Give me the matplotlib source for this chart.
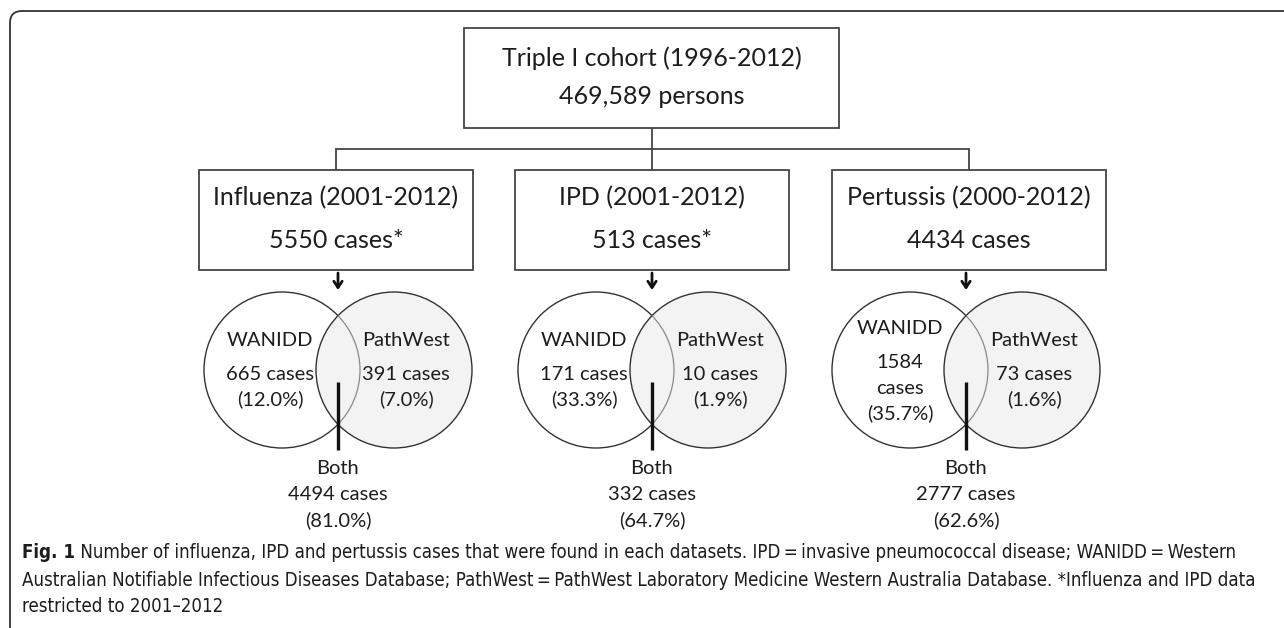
import matplotlib
matplotlib.use("Agg")
import matplotlib.pyplot as plt
import matplotlib.transforms as mtransforms
from matplotlib.patches import Rectangle, Circle, FancyBboxPatch

# ---------------- data ----------------
cohort_title = "Triple I cohort (1996-2012)"
cohort_size = "469,589 persons"
diseases = ["Influenza (2001-2012)", "IPD (2001-2012)", "Pertussis (2000-2012)"]
total_labels = ["5550 cases*", "513 cases*", "4434 cases"]
wanidd_cases = [665, 171, 1584]
wanidd_pct = [12.0, 33.3, 35.7]
pathwest_cases = [391, 10, 73]
pathwest_pct = [7.0, 1.9, 1.6]
both_cases = [4494, 332, 2777]
both_pct = [81.0, 64.7, 62.6]
caption_bold = "Fig. 1"
caption_lines = [
    " Number of influenza, IPD and pertussis cases that were found in each datasets. IPD\u2009=\u2009invasive pneumococcal disease; WANIDD\u2009=\u2009Western",
    "Australian Notifiable Infectious Diseases Database; PathWest\u2009=\u2009PathWest Laboratory Medicine Western Australia Database. *Influenza and IPD data",
    "restricted to 2001\u20132012",
]

# ---------------- figure ----------------
W, H = 1284, 628
fig = plt.figure(figsize=(W / 100, H / 100), dpi=100)
ax = fig.add_axes([0, 0, 1, 1])
ax.set_xlim(0, W)
ax.set_ylim(H, 0)
ax.axis("off")

FONT = "Lato"
TXT = "#1e1c1d"
LINE = "#444444"
BIG = 18

# outer rounded frame (extends past right/bottom edge)
frame = FancyBboxPatch((10, 11), W + 40, H + 40,
                       boxstyle="round,pad=0,rounding_size=12",
                       fc="none", ec="#333333", lw=1.3)
ax.add_patch(frame)

# top box
ax.add_patch(Rectangle((464, 28), 375, 100, fc="white", ec=LINE, lw=1.3))
ax.text(652, 58, cohort_title, ha="center", va="center", fontsize=BIG,
        family=FONT, color=TXT)
ax.text(652, 97, cohort_size, ha="center", va="center", fontsize=BIG,
        family=FONT, color=TXT)

box_cx = [336, 652, 969]
venn_mid = [338, 652, 966]
box_w, box_top, box_h = 274, 170, 100
conn_y = 149

# connectors
ax.plot([652, 652], [128, conn_y], color=LINE, lw=1.3, solid_capstyle="butt")
ax.plot([box_cx[0], box_cx[-1]], [conn_y, conn_y], color=LINE, lw=1.3)
for cx in box_cx:
    ax.plot([cx, cx], [conn_y, box_top], color=LINE, lw=1.3, solid_capstyle="butt")

R = 78
SEP = 56
CY = 370
fs = 14.5


def label(x, y, s, size=fs, z=5):
    ax.text(x, y, s, ha="center", va="center", fontsize=size,
            family=FONT, color=TXT, zorder=z)


for i, cx in enumerate(box_cx):
    ax.add_patch(Rectangle((cx - box_w / 2, box_top), box_w, box_h,
                           fc="white", ec=LINE, lw=1.3))
    label(cx, 198, diseases[i], BIG)
    label(cx, 240, total_labels[i], BIG)

    m = venn_mid[i]
    # arrow
    ax.annotate("", xy=(m, 290), xytext=(m, 273),
                arrowprops=dict(arrowstyle="->,head_length=0.45,head_width=0.3",
                                color="#111111", lw=2.0, shrinkA=0, shrinkB=0))
    lc, rc = m - SEP, m + SEP
    left = Circle((lc, CY), R, fc="white", ec="#333333", lw=1.0, zorder=2)
    right = Circle((rc, CY), R, fc="#f3f3f3", ec="#333333", lw=1.0, zorder=3)
    ax.add_patch(left)
    ax.add_patch(right)
    inner = Circle((lc, CY), R, fc="none", ec="#8a8a8a", lw=0.9, zorder=4)
    ax.add_patch(inner)
    inner.set_clip_path(right)

    # WANIDD side
    if wanidd_cases[i] >= 1000:
        label(lc - 10, 328, "WANIDD")
        label(lc - 10, 363, f"{wanidd_cases[i]}")
        label(lc - 10, 388, "cases")
        label(lc - 10, 413, f"({wanidd_pct[i]:.1f}%)")
    else:
        label(lc - 12, 341, "WANIDD")
        label(lc - 12, 375, f"{wanidd_cases[i]} cases")
        label(lc - 12, 399, f"({wanidd_pct[i]:.1f}%)")
    # PathWest side
    label(rc + 12, 341, "PathWest")
    label(rc + 12, 375, f"{pathwest_cases[i]} cases")
    label(rc + 12, 399, f"({pathwest_pct[i]:.1f}%)")

    # both pointer
    ax.plot([m, m], [382, 450], color="#111111", lw=2.4, zorder=6,
            solid_capstyle="butt")
    label(m, 469, "Both")
    label(m, 495, f"{both_cases[i]} cases")
    label(m, 520, f"({both_pct[i]:.1f}%)")

# caption
CAP_FONT = "DejaVu Sans"
cap_fs = 13.4
y0 = 553
t = ax.text(22, y0, caption_bold, ha="left", va="center", fontsize=cap_fs,
            family=CAP_FONT, fontweight="bold", color=TXT, fontstretch="condensed")
fig.canvas.draw()
bb = t.get_window_extent()
ax.text(bb.x1, y0, caption_lines[0], ha="left", va="center", fontsize=cap_fs,
        family=CAP_FONT, color=TXT, fontstretch="condensed",
        transform=mtransforms.blended_transform_factory(
            mtransforms.IdentityTransform(), ax.transData))
ax.text(22, 580, caption_lines[1], ha="left", va="center", fontsize=cap_fs,
        family=CAP_FONT, color=TXT, fontstretch="condensed")
ax.text(22, 607, caption_lines[2], ha="left", va="center", fontsize=cap_fs,
        family=CAP_FONT, color=TXT, fontstretch="condensed")

fig.savefig("out.png", dpi=100)
